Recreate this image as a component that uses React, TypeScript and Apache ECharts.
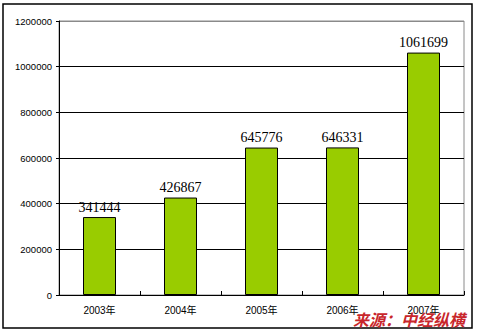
import React, { useEffect, useRef } from "react";
import * as echarts from "echarts";

const categories = ["2003年", "2004年", "2005年", "2006年", "2007年"];
const values = [341444, 426867, 645776, 646331, 1061699];
const sourceText = "来源：中经纵横";

export default function App() {
  const ref = useRef<HTMLDivElement>(null);
  useEffect(() => {
    const chart = echarts.init(ref.current!, null, { renderer: "svg" });
    chart.setOption({
      animation: false,
      backgroundColor: "#ffffff",
      grid: {
        left: 59,
        top: 21,
        right: 13,
        bottom: 38,
        show: true,
        borderColor: "#8a8a8a",
        borderWidth: 1,
        backgroundColor: "transparent",
      },
      xAxis: {
        type: "category",
        data: categories,
        axisLine: { show: true, lineStyle: { color: "#000", width: 1 } },
        axisTick: { show: true, inside: true, length: 4, lineStyle: { color: "#000" } },
        axisLabel: {
          color: "#000",
          fontSize: 10,
          fontFamily: "'Liberation Sans', 'Noto Sans CJK SC', sans-serif",
          margin: 10,
        },
      },
      yAxis: {
        type: "value",
        min: 0,
        max: 1200000,
        interval: 200000,
        axisLine: { show: true, lineStyle: { color: "#000", width: 1 } },
        axisTick: { show: true, length: 3, lineStyle: { color: "#000" } },
        axisLabel: {
          color: "#000",
          fontSize: 9.5,
          fontFamily: "'Liberation Sans', sans-serif",
          margin: 7,
          formatter: (v: number) => String(v),
        },
        splitLine: {
          show: true,
          lineStyle: {
            color: ["#000", "#000", "#000", "#000", "#000", "#000", "#8a8a8a"],
            width: 1,
          },
        },
      },
      series: [
        {
          type: "bar",
          data: values,
          barWidth: 33,
          itemStyle: { color: "#99cc00", borderColor: "#000", borderWidth: 1 },
          label: {
            show: true,
            position: "top",
            distance: 3,
            color: "#000",
            fontSize: 14,
            fontFamily: "'Liberation Serif', serif",
          },
        },
      ],
      graphic: [
        {
          type: "rect",
          shape: { x: 3, y: 4, width: 469, height: 324 },
          style: { fill: "none", stroke: "#000", lineWidth: 1.5 },
          silent: true,
          z: 10,
        },
        {
          type: "text",
          x: 353,
          y: 311,
          style: {
            text: sourceText,
            fill: "#c8262b",
            font: "italic bold 16px 'Noto Sans CJK SC', sans-serif",
          },
          z: 20,
        },
      ],
    });
    return () => chart.dispose();
  }, []);
  return (
    <div
      ref={ref}
      style={{ position: "absolute", left: 0, top: 0, width: 477, height: 333 }}
    />
  );
}
